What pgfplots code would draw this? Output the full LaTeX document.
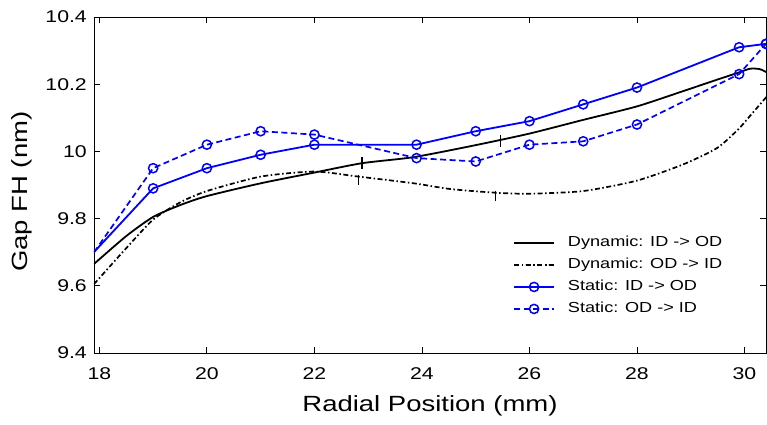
\documentclass[border=0pt]{standalone}
\usepackage{fontspec}
\setmainfont{Liberation Sans}[FakeStretch=1.25]
\usepackage{pgfplots}
\pgfplotsset{compat=1.18}

\begin{document}
\begin{tikzpicture}
\begin{axis}[
    name=ax,
    scale only axis,
    width=672pt, height=336pt,
    xmin=17.9, xmax=30.4,
    ymin=9.4, ymax=10.4,
    xtick={18,20,...,30},
    ytick={9.4,9.6,9.8,10,10.2,10.4},
    yticklabels={9.4,9.6,9.8,10,10.2,10.4},
    /pgf/number format/assume math mode=true,
    tick align=inside,
    major tick length=6pt,
    axis line style={line width=0.9pt},
    tick style={line width=0.8pt, black},
    tick label style={font=\fontsize{17}{20}\selectfont},
    xticklabel style={inner sep=0pt, anchor=north, yshift=-14pt},
    yticklabel style={inner sep=0pt, anchor=east, xshift=-7pt},
    xlabel={Radial Position (mm)},
    ylabel={Gap FH (nm)},
    label style={font=\fontsize{22}{26}\selectfont},
    xlabel style={at={(axis description cs:0.5,-0.158)}, anchor=center, inner sep=0pt},
    ylabel style={at={(axis description cs:-0.107,0.48)}, anchor=center, rotate=0, inner sep=0pt},
    legend cell align=left,
    legend style={at={(0.6235,0.352)}, anchor=north west, draw=none, fill=none,
        inner sep=0pt, row sep=6pt, column sep=0pt,
        font=\fontsize{14.5}{17}\selectfont,
        nodes={inner sep=1pt, text height=11pt, text depth=3pt}},
    legend image code/.code={\draw[mark repeat=2,mark phase=2,#1] plot coordinates {(0pt,0pt) (20pt,0pt) (40pt,0pt)};},
    /tikz/every odd column/.append style={column sep=12pt},
]
% dynamic, ID -> OD
\addplot[black, line width=1.8pt, smooth, tension=0.4] coordinates {
    (17.9,9.665) (18.5,9.748) (19,9.805) (19.5,9.840) (20,9.867) (21,9.905)
    (22,9.937) (22.89,9.965) (23.85,9.983) (24.98,10.018) (26,10.053)
    (26.98,10.093) (28,10.134) (28.87,10.180) (29.5,10.214) (29.88,10.234)
    (30.1,10.246) (30.28,10.245) (30.42,10.235)
};
\addlegendentry{Dynamic: ID -> OD}
% dynamic, OD -> ID
\addplot[black, line width=1.7pt, smooth, tension=0.4,
    dash pattern=on 5pt off 2.5pt on 1.5pt off 2.5pt] coordinates {
    (17.9,9.605) (18.5,9.712) (19,9.797) (19.5,9.848) (20,9.882) (21,9.925)
    (22,9.940) (22.82,9.925) (23.85,9.905) (24.53,9.888) (25.37,9.877)
    (26,9.874) (27,9.882) (28,9.913) (28.87,9.962) (29.49,10.010)
    (29.88,10.065) (30.1,10.105) (30.45,10.170)
};
\addlegendentry{Dynamic: OD -> ID}
% static, ID -> OD
\addplot[blue, line width=1.8pt, mark=o, mark size=4.6pt,
    mark options={line width=1.5pt}] coordinates {
    (17.8,9.683) (19,9.89) (20,9.95) (21,9.99) (22,10.02) (23.9,10.02)
    (25,10.06) (26,10.09) (27,10.14) (28,10.19) (29.9,10.31) (30.4,10.32)
};
\addlegendentry{Static: ID -> OD}
% static, OD -> ID
\addplot[blue, line width=1.7pt, dash pattern=on 6pt off 3.5pt, mark=o, mark size=4.6pt,
    mark options={solid, line width=1.5pt}] coordinates {
    (17.8,9.677) (19,9.95) (20,10.02) (21,10.06) (22,10.05) (23.9,9.98)
    (25,9.97) (26,10.02) (27,10.03) (28,10.08) (29.9,10.23) (30.4,10.32)
};
\addlegendentry{Static: OD -> ID}
% direction marks on the dynamic curves
\addplot[forget plot, only marks, mark=|, mark size=6pt, mark options={line width=1.8pt, black}] coordinates {
    (22.89,9.965) (25.46,10.030)
};
\addplot[forget plot, only marks, mark=|, mark size=5pt, mark options={line width=1.6pt, black, yshift=-3pt}] coordinates {
    (22.82,9.925) (25.37,9.877)
};
\end{axis}
\pgfresetboundingbox
\path (ax.south west) ++(-94pt,-72pt) rectangle ([shift={(1pt,17pt)}]ax.north east);
\end{tikzpicture}
\end{document}
